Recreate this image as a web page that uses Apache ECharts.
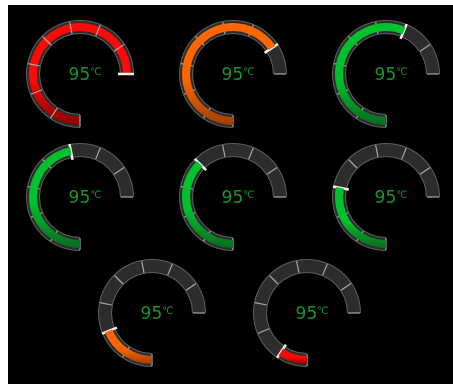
<!DOCTYPE html>
<html>
<head>
<meta charset="utf-8">
<script src="https://cdn.jsdelivr.net/npm/echarts@6/dist/echarts.min.js"></script>
<style>
html, body { margin: 0; padding: 0; background: #fff; }
#main { position: absolute; left: 8px; top: 5px; width: 445px; height: 379px; }
</style>
</head>
<body>
<div id="main"></div>
<script>
// 每个仪表的数值（百分比）
var values = [100, 87.5, 75, 62.5, 50, 37.5, 25, 12.5];
// 中间显示的温度文字
var labels = ['95', '95', '95', '95', '95', '95', '95', '95'];
var unit = '℃';
var colorNames = ['red', 'orange', 'green', 'green', 'green', 'green', 'orange', 'red'];

var palette = {
    red: ['#ff0808', '#8a0000'],
    orange: ['#ff6600', '#a04000'],
    green: ['#00c22c', '#0a6a20']
};
var centers = [[72, 69], [225, 69], [378, 69], [72, 192], [225, 192], [378, 192], [144, 308], [299, 308]];
var R = 53;

var myChart = echarts.init(document.getElementById('main'));

function base(i) {
    return {
        type: 'gauge',
        center: centers[i],
        startAngle: 270,
        endAngle: 0,
        min: 0,
        max: 100,
        splitNumber: 8,
        axisTick: {show: false},
        axisLabel: {show: false},
        splitLine: {show: false},
        pointer: {show: false},
        anchor: {show: false},
        title: {show: false},
        detail: {show: false},
        animation: false
    };
}

var series = [];
values.forEach(function (v, i) {
    var c = palette[colorNames[i]];
    // 外圈亮边
    var rim = base(i);
    rim.radius = R + 1;
    rim.axisLine = {lineStyle: {width: 14, color: [[1, '#5e5e5e']]}};
    rim.data = [{value: v}];
    series.push(rim);
    // 灰色轨道
    var track = base(i);
    track.radius = R;
    track.axisLine = {lineStyle: {width: 12, color: [[1, '#2c2c2c']]}};
    track.data = [{value: v}];
    series.push(track);
    // 进度条 + 文字
    var prog = base(i);
    prog.radius = R - 2;
    prog.axisLine = {show: false, lineStyle: {width: 8}};
    prog.progress = {
        show: true,
        width: 8,
        itemStyle: {
            color: new echarts.graphic.LinearGradient(0, 0, 0, 1, [
                {offset: 0, color: c[0]},
                {offset: 0.55, color: c[0]},
                {offset: 1, color: c[1]}
            ])
        }
    };
    prog.detail = {
        show: true,
        offsetCenter: [5, 2],
        fontWeight: 'normal',
        formatter: function () {
            return '{v|' + labels[i] + '}{u|' + unit + '}';
        },
        rich: {
            v: {fontSize: 17, color: '#16952a', fontFamily: 'DejaVu Sans', fontWeight: 'normal', lineHeight: 20},
            u: {fontSize: 10, color: '#16952a', fontFamily: 'DejaVu Sans', fontWeight: 'normal', lineHeight: 20, padding: [0, 0, 8, 0]}
        }
    };
    prog.data = [{value: v}];
    series.push(prog);
    // 刻度线 + 指针
    var top = base(i);
    top.radius = R;
    top.axisLine = {show: true, lineStyle: {width: 12, color: [[1, 'rgba(0,0,0,0)']]}};
    top.splitLine = {show: true, distance: -12, length: 12, lineStyle: {color: '#a8a8a8', width: 1.2}};
    top.pointer = {
        show: true,
        icon: 'rect',
        width: 2.5,
        length: 16,
        offsetCenter: [0, -(R - 15)],
        itemStyle: {color: '#f2f2f2'}
    };
    top.data = [{value: v}];
    series.push(top);
});

var option = {
    backgroundColor: '#000',
    series: series
};
myChart.setOption(option);
</script>
</body>
</html>
